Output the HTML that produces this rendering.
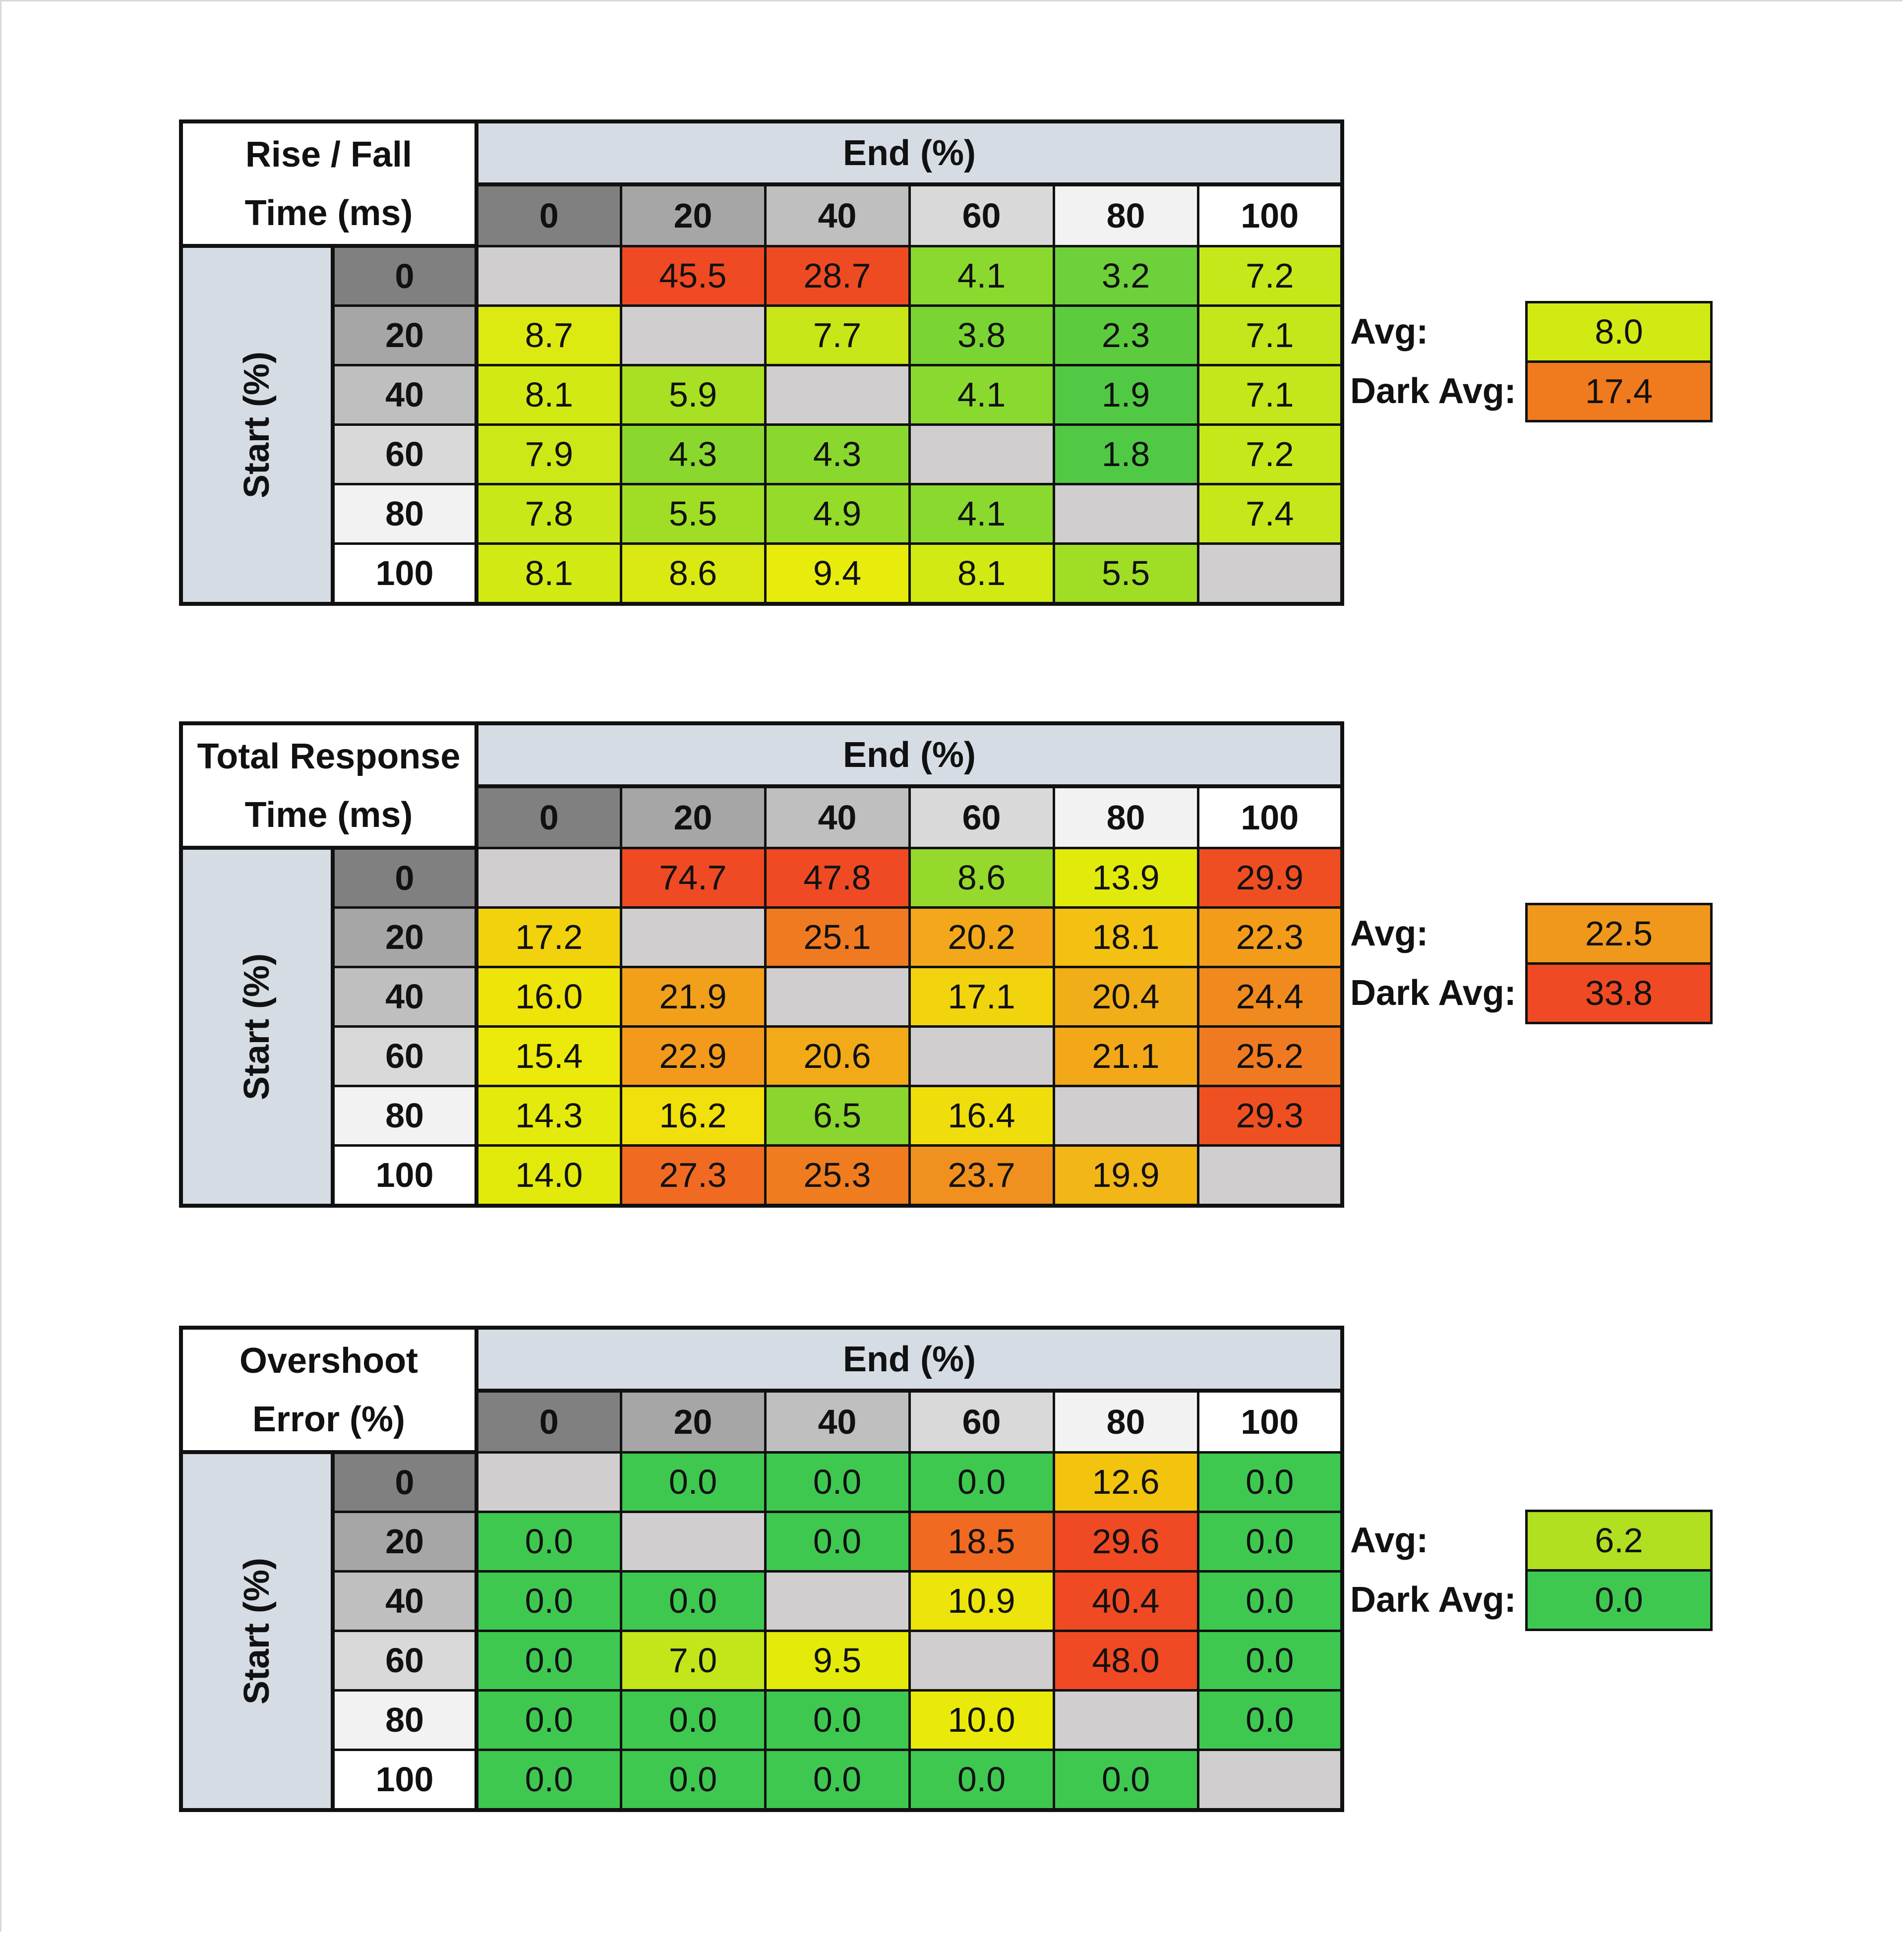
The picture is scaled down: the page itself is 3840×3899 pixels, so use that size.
<!DOCTYPE html>
<html><head><meta charset="utf-8"><style>
html,body{margin:0;padding:0;background:#fff;}
body{width:3840px;height:3899px;position:relative;overflow:hidden;font-family:"Liberation Sans",sans-serif;color:#111;}
.frame{position:absolute;left:0;top:0;width:3834px;height:3893px;border-left:3px solid #d8d8d8;border-top:3px solid #d8d8d8;}
table{position:absolute;left:361px;border-collapse:collapse;table-layout:fixed;border:8px solid #111;}
td{border:5px solid #111;text-align:center;font-size:70px;padding:0;overflow:hidden;white-space:nowrap;}
.t{background:#fff;font-weight:bold;line-height:118px;font-size:72px;}
.e{background:#d6dce4;font-weight:bold;font-size:72px;border-bottom:8px solid #111;}
.h{font-weight:bold;font-size:70px;}
.s{background:#d6dce4;font-weight:bold;font-size:72px;}
.s div{transform:rotate(-90deg);white-space:nowrap;}
.g0{background:#808080}.g1{background:#a6a6a6}.g2{background:#bfbfbf}.g3{background:#d9d9d9}.g4{background:#f2f2f2}.g5{background:#fff}
.x{background:#d0cece}
.lab{position:absolute;left:2723px;font-weight:bold;font-size:72px;line-height:120px;}
.box{position:absolute;left:3076px;width:378px;border:5px solid #111;box-sizing:border-box;text-align:center;font-size:70px;}
.box div{height:115px;line-height:115px;}
</style></head><body><div class="frame"></div>

<!-- TABLE 1 -->
<table style="top:241px">
<colgroup><col style="width:306px"><col style="width:290px"><col style="width:291px"><col style="width:291px"><col style="width:291px"><col style="width:291px"><col style="width:291px"><col style="width:291px"></colgroup>
<tr style="height:127px"><td class="t" colspan="2" rowspan="2" style="border-bottom:8px solid #111;border-right:8px solid #111">Rise / Fall<br>Time (ms)</td><td class="e" colspan="6">End (%)</td></tr>
<tr style="height:124px"><td class="h g0">0</td><td class="h g1">20</td><td class="h g2">40</td><td class="h g3">60</td><td class="h g4">80</td><td class="h g5">100</td></tr>
<tr style="height:120px"><td class="s" rowspan="6" style="border-right:8px solid #111"><div>Start (%)</div></td><td class="h g0" style="border-right:8px solid #111">0</td><td class="x"></td><td style="background:#ef4a23">45.5</td><td style="background:#ef4b22">28.7</td><td style="background:#8ad92f">4.1</td><td style="background:#6ed03a">3.2</td><td style="background:#c5e81a">7.2</td></tr>
<tr style="height:120px"><td class="h g1" style="border-right:8px solid #111">20</td><td style="background:#dcea12">8.7</td><td class="x"></td><td style="background:#c8e618">7.7</td><td style="background:#7ad433">3.8</td><td style="background:#5ccc3e">2.3</td><td style="background:#c2e71b">7.1</td></tr>
<tr style="height:120px"><td class="h g2" style="border-right:8px solid #111">40</td><td style="background:#d2ea14">8.1</td><td style="background:#a8e023">5.9</td><td class="x"></td><td style="background:#8ad92f">4.1</td><td style="background:#52c944">1.9</td><td style="background:#c2e71b">7.1</td></tr>
<tr style="height:120px"><td class="h g3" style="border-right:8px solid #111">60</td><td style="background:#cce817">7.9</td><td style="background:#8ad82e">4.3</td><td style="background:#8ad82e">4.3</td><td class="x"></td><td style="background:#50c945">1.8</td><td style="background:#c5e81a">7.2</td></tr>
<tr style="height:120px"><td class="h g4" style="border-right:8px solid #111">80</td><td style="background:#cae818">7.8</td><td style="background:#a0de26">5.5</td><td style="background:#94db2a">4.9</td><td style="background:#8ad92f">4.1</td><td class="x"></td><td style="background:#c6e71a">7.4</td></tr>
<tr style="height:122px"><td class="h g5" style="border-right:8px solid #111">100</td><td style="background:#d2ea14">8.1</td><td style="background:#dae912">8.6</td><td style="background:#e8ec0c">9.4</td><td style="background:#d2ea14">8.1</td><td style="background:#a0de26">5.5</td><td class="x"></td></tr>
</table>
<div class="lab" style="top:609px">Avg:</div><div class="lab" style="top:729px">Dark Avg:</div>
<div class="box" style="top:607px"><div style="background:#d2ea14;border-bottom:5px solid #111">8.0</div><div style="background:#f07a1e">17.4</div></div>

<!-- TABLE 2 -->
<table style="top:1455px">
<colgroup><col style="width:306px"><col style="width:290px"><col style="width:291px"><col style="width:291px"><col style="width:291px"><col style="width:291px"><col style="width:291px"><col style="width:291px"></colgroup>
<tr style="height:127px"><td class="t" colspan="2" rowspan="2" style="border-bottom:8px solid #111;border-right:8px solid #111">Total Response<br>Time (ms)</td><td class="e" colspan="6">End (%)</td></tr>
<tr style="height:124px"><td class="h g0">0</td><td class="h g1">20</td><td class="h g2">40</td><td class="h g3">60</td><td class="h g4">80</td><td class="h g5">100</td></tr>
<tr style="height:120px"><td class="s" rowspan="6" style="border-right:8px solid #111"><div>Start (%)</div></td><td class="h g0" style="border-right:8px solid #111">0</td><td class="x"></td><td style="background:#ef4a23">74.7</td><td style="background:#ef4a23">47.8</td><td style="background:#94d92c">8.6</td><td style="background:#e2ea0c">13.9</td><td style="background:#ef4e22">29.9</td></tr>
<tr style="height:120px"><td class="h g1" style="border-right:8px solid #111">20</td><td style="background:#f2d20c">17.2</td><td class="x"></td><td style="background:#f07a22">25.1</td><td style="background:#f2a81a">20.2</td><td style="background:#f4c012">18.1</td><td style="background:#f39c1a">22.3</td></tr>
<tr style="height:120px"><td class="h g2" style="border-right:8px solid #111">40</td><td style="background:#eee40a">16.0</td><td style="background:#f2a01a">21.9</td><td class="x"></td><td style="background:#f2d40e">17.1</td><td style="background:#f2ae18">20.4</td><td style="background:#f08a1e">24.4</td></tr>
<tr style="height:120px"><td class="h g3" style="border-right:8px solid #111">60</td><td style="background:#ecea0a">15.4</td><td style="background:#f39a1c">22.9</td><td style="background:#f2aa18">20.6</td><td class="x"></td><td style="background:#f2a818">21.1</td><td style="background:#f07a22">25.2</td></tr>
<tr style="height:120px"><td class="h g4" style="border-right:8px solid #111">80</td><td style="background:#e4ea0c">14.3</td><td style="background:#f2e00c">16.2</td><td style="background:#8ad52e">6.5</td><td style="background:#f0de0c">16.4</td><td class="x"></td><td style="background:#ef5022">29.3</td></tr>
<tr style="height:122px"><td class="h g5" style="border-right:8px solid #111">100</td><td style="background:#e2ea0c">14.0</td><td style="background:#f06a22">27.3</td><td style="background:#f07c20">25.3</td><td style="background:#f0901e">23.7</td><td style="background:#f2b616">19.9</td><td class="x"></td></tr>
</table>
<div class="lab" style="top:1823px">Avg:</div><div class="lab" style="top:1943px">Dark Avg:</div>
<div class="box" style="top:1821px"><div style="background:#f0981c;border-bottom:5px solid #111">22.5</div><div style="background:#ef4a23">33.8</div></div>

<!-- TABLE 3 -->
<table style="top:2674px">
<colgroup><col style="width:306px"><col style="width:290px"><col style="width:291px"><col style="width:291px"><col style="width:291px"><col style="width:291px"><col style="width:291px"><col style="width:291px"></colgroup>
<tr style="height:127px"><td class="t" colspan="2" rowspan="2" style="border-bottom:8px solid #111;border-right:8px solid #111">Overshoot<br>Error (%)</td><td class="e" colspan="6">End (%)</td></tr>
<tr style="height:124px"><td class="h g0">0</td><td class="h g1">20</td><td class="h g2">40</td><td class="h g3">60</td><td class="h g4">80</td><td class="h g5">100</td></tr>
<tr style="height:120px"><td class="s" rowspan="6" style="border-right:8px solid #111"><div>Start (%)</div></td><td class="h g0" style="border-right:8px solid #111">0</td><td class="x"></td><td style="background:#3ec850">0.0</td><td style="background:#3ec850">0.0</td><td style="background:#3ec850">0.0</td><td style="background:#f2c40e">12.6</td><td style="background:#3ec850">0.0</td></tr>
<tr style="height:120px"><td class="h g1" style="border-right:8px solid #111">20</td><td style="background:#3ec850">0.0</td><td class="x"></td><td style="background:#3ec850">0.0</td><td style="background:#f06a22">18.5</td><td style="background:#ef4a23">29.6</td><td style="background:#3ec850">0.0</td></tr>
<tr style="height:120px"><td class="h g2" style="border-right:8px solid #111">40</td><td style="background:#3ec850">0.0</td><td style="background:#3ec850">0.0</td><td class="x"></td><td style="background:#ece40a">10.9</td><td style="background:#ef4a23">40.4</td><td style="background:#3ec850">0.0</td></tr>
<tr style="height:120px"><td class="h g3" style="border-right:8px solid #111">60</td><td style="background:#3ec850">0.0</td><td style="background:#c2e61a">7.0</td><td style="background:#e4ea0a">9.5</td><td class="x"></td><td style="background:#ef4a23">48.0</td><td style="background:#3ec850">0.0</td></tr>
<tr style="height:120px"><td class="h g4" style="border-right:8px solid #111">80</td><td style="background:#3ec850">0.0</td><td style="background:#3ec850">0.0</td><td style="background:#3ec850">0.0</td><td style="background:#eaea0a">10.0</td><td class="x"></td><td style="background:#3ec850">0.0</td></tr>
<tr style="height:122px"><td class="h g5" style="border-right:8px solid #111">100</td><td style="background:#3ec850">0.0</td><td style="background:#3ec850">0.0</td><td style="background:#3ec850">0.0</td><td style="background:#3ec850">0.0</td><td style="background:#3ec850">0.0</td><td class="x"></td></tr>
</table>
<div class="lab" style="top:3047px">Avg:</div><div class="lab" style="top:3167px">Dark Avg:</div>
<div class="box" style="top:3045px"><div style="background:#b0e020;border-bottom:5px solid #111">6.2</div><div style="background:#3ec850">0.0</div></div>
</body></html>
